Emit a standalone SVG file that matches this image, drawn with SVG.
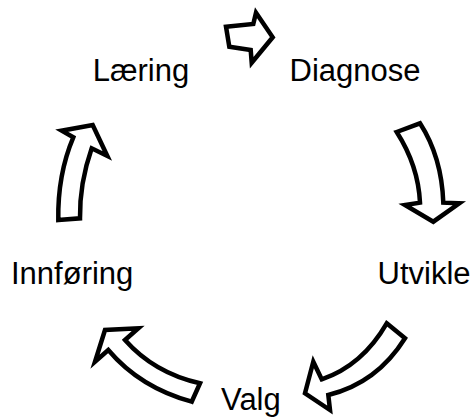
<svg xmlns="http://www.w3.org/2000/svg" width="474" height="418" viewBox="0 0 474 418">
<style>
.lbl{font-family:"Liberation Sans",Arial,sans-serif;font-size:31px;fill:#000}
.arr{fill:#fff;stroke:#000;stroke-width:4.5;stroke-linejoin:miter}
</style>
<rect width="474" height="418" fill="#fff"/>
<g id="connectors">
<path class="arr" d="M226,26.7 L253.3,24 L256,12.7 L272.7,37.3 L251.7,62.7 L250.7,50 L229.3,46.7 Z"/>
<path class="arr" d="M396.7,132 L420,123.3 Q441.7,157 443.3,202.7 L459.3,203.3 L433.3,221.7 L405,205 L420,202.7 Q418.3,165.7 396.7,132 Z"/>
<path class="arr" d="M386.7,323.3 L405,338.3 Q376.7,383.3 328.3,395 L330,410 L305,393.3 L313.3,361.7 L321.7,379.3 Q362.5,365.3 386.7,323.3 Z"/>
<path class="arr" d="M200,383.3 L191.7,401.7 Q140,387.5 108.3,350 L95,361.7 L105,330 L138.3,328.3 L125,340 Q154.2,373 200,383.3 Z"/>
<path class="arr" d="M58.3,220 L80,218.3 Q79.5,183.3 91.7,148.3 L107.3,156 L92.7,125 L61.7,130.7 L73.3,137.3 Q57.5,174.7 58.3,220 Z"/>
</g>
<g id="n-laering"><text class="lbl" x="92.7" y="81">Læring</text></g>
<g id="n-diagnose"><text class="lbl" x="289.5" y="81">Diagnose</text></g>
<g id="n-utvikle"><text class="lbl" x="377.5" y="284.3">Utvikle</text></g>
<g id="n-valg"><text class="lbl" x="221" y="410">Valg</text></g>
<g id="n-innforing"><text class="lbl" x="11" y="284.3">Innføring</text></g>
</svg>
